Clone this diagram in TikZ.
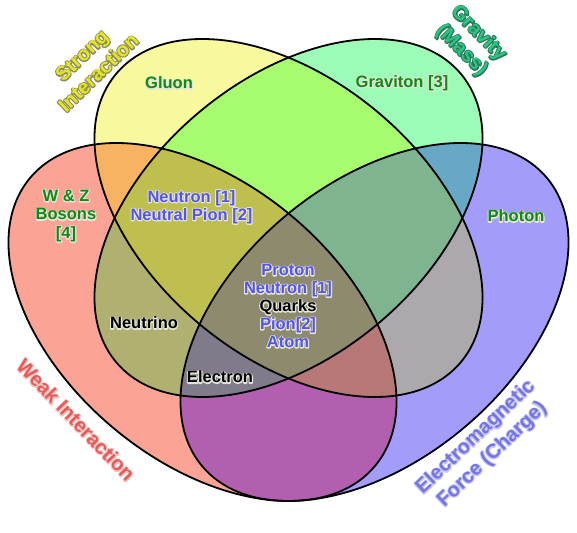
\documentclass[tikz,border=0pt]{standalone}
\usepackage{fontspec}
\setmainfont{Liberation Sans}
\definecolor{cY}{HTML}{F8F99E}
\definecolor{cG}{HTML}{9DFBB8}
\definecolor{cR}{HTML}{FBA395}
\definecolor{cB}{HTML}{A39CFA}
\definecolor{cYG}{HTML}{A7FB6E}
\definecolor{cYR}{HTML}{F7B361}
\definecolor{cYB}{HTML}{ACA8AC}
\definecolor{cGR}{HTML}{B0B170}
\definecolor{cGB}{HTML}{66A8C5}
\definecolor{cRB}{HTML}{B15FAE}
\definecolor{cYGR}{HTML}{BFBF4F}
\definecolor{cYGB}{HTML}{7EB590}
\definecolor{cYRB}{HTML}{B97878}
\definecolor{cGRB}{HTML}{807A8B}
\definecolor{cAll}{HTML}{8E8A6E}
\definecolor{tGreen}{HTML}{118A11}
\definecolor{tBlue}{HTML}{5454EC}
\definecolor{hLight}{HTML}{E4E4DC}
\definecolor{tStrong}{HTML}{E6E620}
\definecolor{hStrong}{HTML}{8C8C60}
\definecolor{tGrav}{HTML}{2CC484}
\definecolor{hGrav}{HTML}{2A7A5A}
\definecolor{tWeak}{HTML}{E45C5C}
\definecolor{hWeak}{HTML}{F4C4C0}
\definecolor{tEM}{HTML}{7474E4}
\definecolor{hEM}{HTML}{C8C8F4}
% text with a halo: a stroked copy underneath, then the filled text
\newcommand\hlt[3]{\leavevmode\rlap{\textcolor{#1}{\special{pdf:literal direct 1 Tr 2.2 w 1 j}#3\special{pdf:literal direct 0 Tr}}}\textcolor{#2}{#3}}
\newcommand\EY{[rotate around={-39.85:(288.5,314)}] (288.5,314) ellipse [x radius=224.7pt, y radius=138.5pt]}
\newcommand\EG{[rotate around={39.85:(288.5,314)}] (288.5,314) ellipse [x radius=224.7pt, y radius=138.5pt]}
\newcommand\ER{[rotate around={-39.85:(202.5,210)}] (202.5,210) ellipse [x radius=224.7pt, y radius=138.5pt]}
\newcommand\EB{[rotate around={39.85:(374.5,210)}] (374.5,210) ellipse [x radius=224.7pt, y radius=138.5pt]}
\tikzset{
  lbl/.style={font=\fontsize{16.5}{18}\selectfont\bfseries, align=center, inner sep=0pt},
  ttl/.style={font=\fontsize{20}{24}\selectfont\bfseries, align=center, inner sep=0pt},
  outline/.style={draw=black, line width=1.8pt}
}
\begin{document}
\begin{tikzpicture}[x=1pt,y=1pt]
\useasboundingbox (0,0) rectangle (577,532);
% single sets
\fill[cY] \EY;
\fill[cG] \EG;
\fill[cR] \ER;
\fill[cB] \EB;
% pairs
\begin{scope}\clip \EY; \fill[cYG] \EG; \end{scope}
\begin{scope}\clip \EY; \fill[cYR] \ER; \end{scope}
\begin{scope}\clip \EY; \fill[cYB] \EB; \end{scope}
\begin{scope}\clip \EG; \fill[cGR] \ER; \end{scope}
\begin{scope}\clip \EG; \fill[cGB] \EB; \end{scope}
\begin{scope}\clip \ER; \fill[cRB] \EB; \end{scope}
% triples
\begin{scope}\clip \EY; \clip \EG; \fill[cYGR] \ER; \end{scope}
\begin{scope}\clip \EY; \clip \EG; \fill[cYGB] \EB; \end{scope}
\begin{scope}\clip \EY; \clip \ER; \fill[cYRB] \EB; \end{scope}
\begin{scope}\clip \EG; \clip \ER; \fill[cGRB] \EB; \end{scope}
% all four
\begin{scope}\clip \EY; \clip \EG; \clip \ER; \fill[cAll] \EB; \end{scope}
% outlines
\draw[outline] \EY;
\draw[outline] \EG;
\draw[outline] \ER;
\draw[outline] \EB;
% labels
\node[lbl] (gluon) at (169,449) {\hlt{hLight}{tGreen}{Gluon}};
\node[lbl] (graviton) at (402,449) {\hlt{hLight}{tGreen}{Graviton [3]}};
\node[lbl] (photon) at (516,316) {\hlt{hLight}{tGreen}{Photon}};
\node[lbl, font=\fontsize{16.5}{18.5}\selectfont\bfseries] (wz) at (66,316) {\hlt{hLight}{tGreen}{W \& Z}\\ \hlt{hLight}{tGreen}{Bosons}\\ \hlt{hLight}{tGreen}{[4]}};
\node[lbl] (neutron) at (191.5,325) {\hlt{hLight}{tBlue}{Neutron [1]}\\ \hlt{hLight}{tBlue}{Neutral Pion [2]}};
\node[lbl] (center) at (288,226) {\hlt{hLight}{tBlue}{Proton}\\ \hlt{hLight}{tBlue}{Neutron [1]}\\ \hlt{hLight}{black}{Quarks}\\ \hlt{hLight}{tBlue}{Pion[2]}\\ \hlt{hLight}{tBlue}{Atom}};
\node[lbl] (neutrino) at (144,209) {\hlt{hLight}{black}{Neutrino}};
\node[lbl] (electron) at (220,155) {\hlt{hLight}{black}{Electron}};
% titles
\node[ttl, rotate=44] (strong) at (90,468) {\hlt{hStrong}{tStrong}{Strong}\\ \hlt{hStrong}{tStrong}{Interaction}};
\node[ttl, rotate=-45] (gravity) at (470,490) {\hlt{hGrav}{tGrav}{Gravity}\\ \hlt{hGrav}{tGrav}{(Mass)}};
\node[ttl, rotate=-46] (weak) at (76,112) {\hlt{hWeak}{tWeak}{Weak Interaction}};
\node[ttl, rotate=43.6] (em) at (484,86) {\hlt{hEM}{tEM}{Electromagnetic}\\ \hlt{hEM}{tEM}{Force (Charge)}};
\end{tikzpicture}
\end{document}
